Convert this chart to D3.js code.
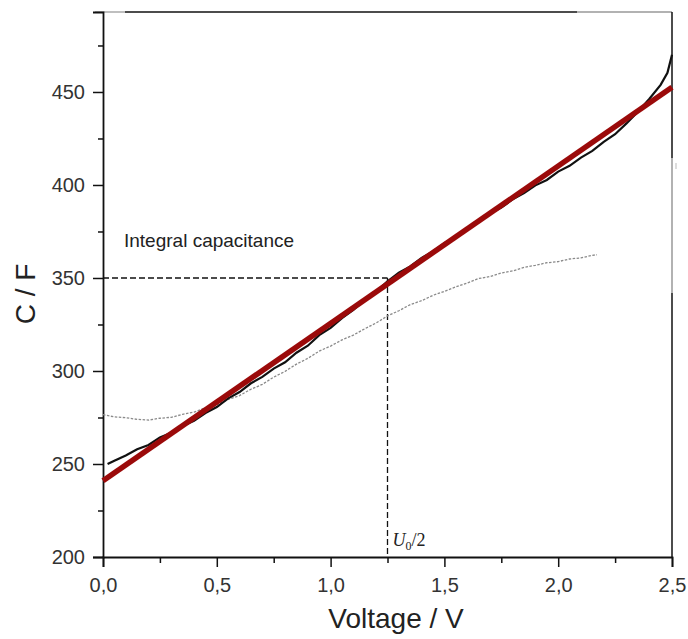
<!DOCTYPE html>
<html>
<head>
<meta charset="utf-8">
<script src="https://cdn.jsdelivr.net/npm/d3@7"></script>
<style>
  html, body { margin: 0; padding: 0; background: #fff; }
  svg { display: block; font-family: "Liberation Sans", Arial, sans-serif; }
</style>
</head>
<body>
<svg id="chart" width="688" height="639"></svg>
<script>
// Measured capacitance vs. voltage (black), differential capacitance (grey)
// and the linear fit of the integral capacitance (red).
const blackV = [0.02,0.05,0.10,0.15,0.20,0.25,0.30,0.35,0.40,0.45,0.50,0.55,0.60,0.65,0.70,0.75,0.80,0.85,0.90,0.95,1.00,1.05,1.10,1.15,1.20,1.25,1.30,1.35,1.40,1.45,1.50,1.55,1.60,1.65,1.70,1.75,1.80,1.85,1.90,1.95,2.00,2.05,2.10,2.15,2.20,2.25,2.30,2.35,2.40,2.45,2.48,2.50];
const blackC = [250,251.8,254.6,257.9,260.2,264.3,266.8,270.4,273.2,277.4,280.6,285.3,288.7,293.4,296.8,301.3,304.7,309.8,313.6,319.3,323.2,328.4,332.8,338.3,342.7,348.2,352.8,356.2,360.8,364.3,368.7,372.2,376.8,380.3,384.7,387.8,392.3,395.7,399.8,402.7,407.2,410.3,414.7,418.3,423.2,427.3,433.1,439.4,446.2,453.8,460.3,470];

const greyV = [0.00,0.05,0.10,0.15,0.20,0.25,0.30,0.35,0.40,0.45,0.50,0.55,0.60,0.65,0.70,0.75,0.80,0.85,0.90,0.95,1.00,1.05,1.10,1.15,1.20,1.25,1.30,1.35,1.40,1.45,1.50,1.55,1.60,1.65,1.70,1.75,1.80,1.85,1.90,1.95,2.00,2.05,2.10,2.15,2.17];
const greyC = [276.5,275.3,274.9,274.0,273.6,274.6,275.1,276.7,277.9,280.2,281.9,284.7,286.8,290.2,292.8,296.7,299.8,303.7,306.8,310.7,313.4,316.7,319.3,322.7,325.8,329.6,332.4,335.7,337.8,340.7,342.8,345.2,347.3,349.7,350.8,352.7,353.8,355.7,356.8,358.2,358.8,360.2,360.8,362.2,362.5];

// Linear fit: C = C0 + k * U
const fitV = [0.0, 2.5];
const fitC = [241, 452.5];

// Reading of the integral capacitance at U0/2
const markV = 1.25;
const markC = 350;

const xTicks = [0, 0.5, 1.0, 1.5, 2.0, 2.5];
const xMinor = [0.25, 0.75, 1.25, 1.75, 2.25];
const yTicks = [200, 250, 300, 350, 400, 450];
const yMinor = [225, 275, 325, 375, 425, 475];

const svg = d3.select("#chart");
const plotL = 103, plotR = 672, plotT = 12, plotB = 557;

const x = d3.scaleLinear().domain([0, 2.5]).range([plotL, plotR]);
const y = d3.scaleLinear().domain([200, 493]).range([plotB, plotT]);

const fmtX = v => d3.format(".1f")(v).replace(".", ",");

// Frame (top and right edges)
const frame = svg.append("g").attr("fill", "none").attr("stroke-width", 1.5);
frame.append("line").attr("x1", 95).attr("x2", 125).attr("y1", plotT).attr("y2", plotT).attr("stroke", "#aaa");
frame.append("line").attr("x1", 125).attr("x2", 577).attr("y1", plotT).attr("y2", plotT).attr("stroke", "#111");
frame.append("line").attr("x1", 577).attr("x2", plotR).attr("y1", plotT).attr("y2", plotT).attr("stroke", "#999");
frame.append("line").attr("x1", plotR).attr("x2", plotR).attr("y1", plotT).attr("y2", 158).attr("stroke", "#111");
frame.append("line").attr("x1", plotR).attr("x2", plotR).attr("y1", 158).attr("y2", 293).attr("stroke", "#999");
frame.append("line").attr("x1", plotR).attr("x2", plotR).attr("y1", 293).attr("y2", plotB).attr("stroke", "#111");
frame.append("line").attr("x1", plotR + 4).attr("x2", plotR + 4).attr("y1", 163).attr("y2", 169).attr("stroke", "#bbb").attr("stroke-width", 1);

// Axes
const xAxis = svg.append("g")
  .attr("transform", `translate(0,${plotB})`)
  .call(d3.axisBottom(x).tickValues(xTicks).tickFormat(fmtX).tickSize(10).tickPadding(11));
const yAxis = svg.append("g")
  .attr("transform", `translate(${plotL},0)`)
  .call(d3.axisLeft(y).tickValues(yTicks).tickSize(10).tickPadding(8));
svg.append("g")
  .attr("transform", `translate(0,${plotB})`)
  .call(d3.axisBottom(x).tickValues(xMinor).tickFormat("").tickSize(6))
  .select(".domain").remove();
svg.append("g")
  .attr("transform", `translate(${plotL},0)`)
  .call(d3.axisLeft(y).tickValues(yMinor).tickFormat("").tickSize(5))
  .select(".domain").remove();

svg.selectAll(".tick line").attr("stroke", "#111").attr("stroke-width", 1.5);
svg.selectAll(".domain").attr("stroke", "#111").attr("stroke-width", 1.8);
svg.selectAll(".tick text").attr("fill", "#333").style("font-size", "20px")
  .style("font-family", '"Liberation Sans", Arial, sans-serif');

// Dashed guide lines at U0/2
const guides = svg.append("g").attr("stroke", "#111").attr("stroke-width", 1.3)
  .attr("stroke-dasharray", "6,3").attr("fill", "none");
guides.append("line").attr("x1", x(0)).attr("x2", x(markV)).attr("y1", y(markC)).attr("y2", y(markC));
guides.append("line").attr("x1", x(markV)).attr("x2", x(markV)).attr("y1", y(markC)).attr("y2", y(200));

const line = d3.line().x(d => x(d[0])).y(d => y(d[1]));

// Differential capacitance (grey, dotted)
svg.append("path")
  .datum(d3.zip(greyV, greyC))
  .attr("d", line)
  .attr("fill", "none").attr("stroke", "#8a8a8a").attr("stroke-width", 1.3)
  .attr("stroke-dasharray", "2.5,1.5");

// Measured capacitance (black)
svg.append("path")
  .datum(d3.zip(blackV, blackC))
  .attr("d", line)
  .attr("fill", "none").attr("stroke", "#111").attr("stroke-width", 2.2);

// Linear fit (red)
svg.append("path")
  .datum(d3.zip(fitV, fitC))
  .attr("d", line)
  .attr("fill", "none").attr("stroke", "#9b0a0a").attr("stroke-width", 5.5);

// Annotations
svg.append("text").attr("x", 124).attr("y", 247)
  .style("font-size", "19px").attr("fill", "#222").text("Integral capacitance");

const u = svg.append("text").attr("x", x(markV) + 5).attr("y", 546)
  .style("font-family", '"Liberation Serif", "Times New Roman", serif')
  .style("font-size", "18px").attr("fill", "#222");
u.append("tspan").style("font-style", "italic").text("U");
u.append("tspan").attr("dy", 4).style("font-size", "12px").text("0");
u.append("tspan").attr("dy", -4).text("/2");

// Axis titles
svg.append("text").attr("x", 396).attr("y", 628).attr("text-anchor", "middle")
  .style("font-size", "28px").attr("fill", "#222").text("Voltage / V");
svg.append("text").attr("transform", "translate(35,294) rotate(-90)").attr("text-anchor", "middle")
  .style("font-size", "28px").attr("fill", "#222").text("C / F");
</script>
</body>
</html>
